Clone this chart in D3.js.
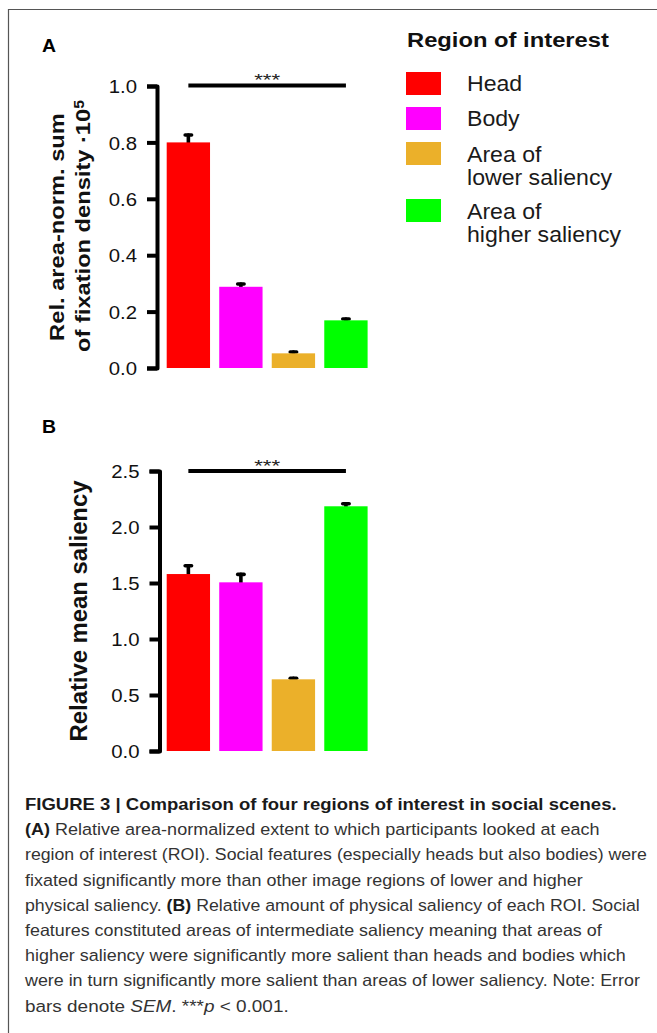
<!DOCTYPE html>
<html>
<head>
<meta charset="utf-8">
<script src="https://cdn.jsdelivr.net/npm/d3@7/dist/d3.min.js"></script>
<style>
  html, body { margin: 0; padding: 0; background: #fff; }
  svg { display: block; font-family: "Liberation Sans", Arial, Helvetica, sans-serif; }
</style>
</head>
<body>
<svg id="fig" width="657" height="1033"></svg>
<script>
// Regions of interest (shared by both panels)
const categories = ["Head", "Body", "Area of lower saliency", "Area of higher saliency"];
const legendLines = [["Head"], ["Body"], ["Area of", "lower saliency"], ["Area of", "higher saliency"]];
const colors = ["#ff0000", "#ff00ff", "#ebb02a", "#00ff00"];

// Panel A: relative area-normalized sum of fixation density (x 10^5), mean and SEM
const fixationMean = [0.80, 0.288, 0.052, 0.169];
const fixationSem = [0.026, 0.010, 0.005, 0.005];
const fixationTicks = [0.0, 0.2, 0.4, 0.6, 0.8, 1.0];

// Panel B: relative mean saliency, mean and SEM
const saliencyMean = [1.58, 1.506, 0.640, 2.185];
const saliencySem = [0.074, 0.071, 0.010, 0.023];
const saliencyTicks = [0.0, 0.5, 1.0, 1.5, 2.0, 2.5];

// Significance bracket spanning Head .. Area of higher saliency
const significance = { from: "Head", to: "Area of higher saliency", label: "***" };

const svg = d3.select("#fig");

// stretch a text element along its own direction to a given length
function fitLength(sel, len) {
  sel.each(function () {
    const nat = this.getComputedTextLength();
    const t = d3.select(this).attr("transform") || "";
    d3.select(this).attr("transform", t + ` scale(${len / nat},1)`);
  });
  return sel;
}
function scaleX(sel, k) {
  sel.each(function () {
    const t = d3.select(this).attr("transform") || "";
    d3.select(this).attr("transform", t + ` scale(${k},1)`);
  });
  return sel;
}

// frame lines
svg.append("path")
  .attr("d", "M8.5,1033 V9.5 H657")
  .attr("fill", "none").attr("stroke", "#555").attr("stroke-width", 1.2);

const x = d3.scaleBand().domain(categories).range([166.7, 367.6]).paddingInner(0.175).paddingOuter(0);

function panel(opts) {
  const g = svg.append("g");
  const y = d3.scaleLinear().domain([opts.ticks[0], opts.ticks[opts.ticks.length - 1]]).range(opts.yRange);

  // panel letter
  scaleX(g.append("text").attr("transform", `translate(42,${opts.letterY})`)
    .attr("font-size", 18).attr("font-weight", "bold").attr("fill", "#000").text(opts.letter), 1.08);

  // error bars (upper half, drawn from mean to mean + SEM)
  const eb = g.append("g").attr("stroke", "#000").attr("stroke-width", 3.6).attr("stroke-linecap", "round").attr("fill", "none");
  categories.forEach((c, i) => {
    const cx = x(c) + x.bandwidth() / 2;
    const top = y(opts.mean[i] + opts.sem[i]);
    eb.append("line").attr("x1", cx).attr("x2", cx).attr("y1", y(opts.mean[i])).attr("y2", top);
    eb.append("line").attr("x1", cx - 3.2).attr("x2", cx + 3.2).attr("y1", top).attr("y2", top);
  });

  // bars
  g.append("g").selectAll("rect").data(categories).join("rect")
    .attr("x", d => x(d))
    .attr("width", x.bandwidth())
    .attr("y", (d, i) => y(opts.mean[i]))
    .attr("height", (d, i) => y(0) - y(opts.mean[i]))
    .attr("fill", (d, i) => colors[i]);

  // y axis
  const ax = g.append("g").attr("transform", `translate(${opts.axisX},0)`)
    .call(d3.axisLeft(y).tickValues(opts.ticks).tickFormat(d3.format(".1f")).tickSize(10).tickSizeOuter(10).tickPadding(10));
  ax.select(".domain").attr("stroke", "#000").attr("stroke-width", 4).attr("stroke-linejoin", "round");
  ax.selectAll(".tick line").attr("stroke", "#000").attr("stroke-width", 4);
  ax.selectAll(".tick text").attr("font-size", 18.5).attr("fill", "#111")
    .attr("font-family", "Liberation Sans, Arial, sans-serif")
    .attr("dy", "0.36em")
    .each(function () {
      const s = d3.select(this);
      s.attr("transform", `translate(${s.attr("x")},0)`).attr("x", 0);
    });
  scaleX(ax.selectAll(".tick text"), 1.1);

  // significance bracket
  const sx1 = x(significance.from) + x.bandwidth() / 2;
  const sx2 = x(significance.to) + x.bandwidth() / 2;
  g.append("line").attr("x1", sx1).attr("x2", sx2).attr("y1", opts.sigY).attr("y2", opts.sigY)
    .attr("stroke", "#000").attr("stroke-width", 4);
  fitLength(g.append("text").attr("transform", `translate(${(sx1 + sx2) / 2},${opts.sigY + 0.5})`)
    .attr("text-anchor", "middle").attr("font-size", 17).attr("fill", "#222").text(significance.label), 26);

  // y axis title
  opts.title(g, (opts.yRange[0] + opts.yRange[1]) / 2);
}

panel({
  letter: "A", letterY: 52,
  ticks: fixationTicks, mean: fixationMean, sem: fixationSem,
  yRange: [368, 86], axisX: 157, sigY: 85.5,
  title: (g, cy) => {
    fitLength(g.append("text").attr("transform", `translate(64,${cy}) rotate(-90)`)
      .attr("text-anchor", "middle").attr("font-size", 21).attr("font-weight", "bold").attr("fill", "#111")
      .text("Rel. area-norm. sum"), 228);
    const t2 = g.append("text").attr("transform", `translate(90,${cy - 1}) rotate(-90)`)
      .attr("text-anchor", "middle").attr("font-size", 21).attr("font-weight", "bold").attr("fill", "#111");
    t2.append("tspan").text("of fixation density \u00b710");
    t2.append("tspan").attr("dy", "-0.45em").attr("font-size", 14).text("5");
    fitLength(t2, 252);
  }
});

panel({
  letter: "B", letterY: 433,
  ticks: saliencyTicks, mean: saliencyMean, sem: saliencySem,
  yRange: [751, 471], axisX: 159.5, sigY: 471,
  title: (g, cy) => {
    fitLength(g.append("text").attr("transform", `translate(87,${cy}) rotate(-90)`)
      .attr("text-anchor", "middle").attr("font-size", 23).attr("font-weight", "bold").attr("fill", "#111")
      .text("Relative mean saliency"), 261);
  }
});

// legend
const lg = svg.append("g");
fitLength(lg.append("text").attr("transform", "translate(407,47)")
  .attr("font-size", 20).attr("font-weight", "bold").attr("fill", "#111").text("Region of interest"), 202);
const swatchY = [72, 107, 142, 199];
const labelBase = [[91], [126], [162, 185], [219, 242]];
categories.forEach((c, i) => {
  lg.append("rect").attr("x", 406).attr("y", swatchY[i]).attr("width", 35).attr("height", 23).attr("fill", colors[i]);
  legendLines[i].forEach((line, j) => {
    scaleX(lg.append("text").attr("transform", `translate(467,${labelBase[i][j]})`)
      .attr("font-size", 22).attr("fill", "#1a1a1a").text(line), 1.05);
  });
});

// caption
const caption = [
  [{ t: "FIGURE 3 | Comparison of four regions of interest in social scenes.", b: true }],
  [{ t: "(A)", b: true }, { t: " Relative area-normalized extent to which participants looked at each" }],
  [{ t: "region of interest (ROI). Social features (especially heads but also bodies) were" }],
  [{ t: "fixated significantly more than other image regions of lower and higher" }],
  [{ t: "physical saliency. " }, { t: "(B)", b: true }, { t: " Relative amount of physical saliency of each ROI. Social" }],
  [{ t: "features constituted areas of intermediate saliency meaning that areas of" }],
  [{ t: "higher saliency were significantly more salient than heads and bodies which" }],
  [{ t: "were in turn significantly more salient than areas of lower saliency. Note: Error" }],
  [{ t: "bars denote " }, { t: "SEM", i: true }, { t: ". ***" }, { t: "p", i: true }, { t: " < 0.001." }]
];
const captionWidths = [592, 575, 622, 558, 615, 577, 601, 615, 264];
const cg = svg.append("g");
caption.forEach((parts, k) => {
  const t = cg.append("text").attr("transform", `translate(25,${810 + k * 25.2})`)
    .attr("font-size", 16.5).attr("fill", "#333");
  parts.forEach(p => {
    const ts = t.append("tspan").text(p.t);
    if (p.b) ts.attr("font-weight", "bold").attr("fill", "#1a1a1a");
    if (p.i) ts.attr("font-style", "italic");
  });
  fitLength(t, captionWidths[k]);
});
</script>
</body>
</html>
